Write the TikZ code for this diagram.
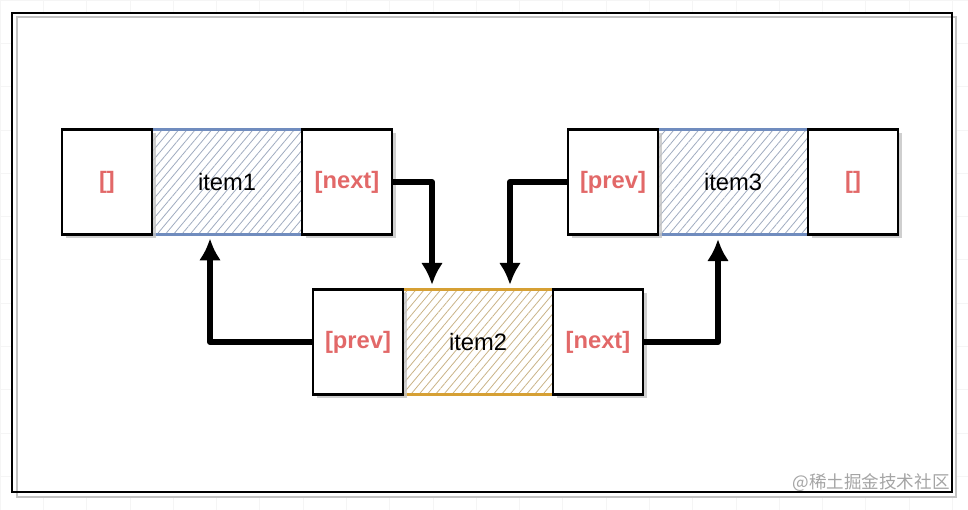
\documentclass[tikz,border=0pt]{standalone}
\usepackage{fontspec}
\setmainfont{Liberation Sans}
\newfontfamily\cjk{Noto Sans CJK SC}
\usetikzlibrary{arrows.meta,positioning,patterns.meta,shadows}
\definecolor{ptrred}{RGB}{226,104,104}
\definecolor{itemblue}{RGB}{112,140,190}
\definecolor{itemorange}{RGB}{214,160,52}
\definecolor{framegray}{RGB}{195,195,195}
\definecolor{markgray}{RGB}{165,165,165}

\tikzset{
  ptrbox/.style={draw=black, line width=1.5pt, fill=white, inner sep=0pt,
    minimum width=1.8cm, minimum height=2.1cm, text=ptrred,
    font=\bfseries\fontsize{13.5}{15}\selectfont,
    drop shadow={shadow xshift=2pt, shadow yshift=-2pt, fill=framegray, opacity=0.8}},
  itembox/.style={draw=#1, line width=1.2pt, inner sep=0pt,
    minimum width=3.0cm, minimum height=2.1cm,
    pattern={Lines[angle=50, distance=3.6pt, line width=0.45pt]}, pattern color=#1!60!gray!70,
    font=\fontsize{13.5}{15}\selectfont},
  link/.style={line width=3.4pt, line join=round,
    -{Latex[length=4.4mm, width=4.4mm]}, shorten >=2pt}
}

\begin{document}
\begin{tikzpicture}[x=0.02cm, y=-0.02cm]
\useasboundingbox (0,0) rectangle (968,510);
% paper
\fill[white] (0,0) rectangle (968,510);
\draw[gray!8, step=0.866cm] (0,0) grid (968,510);
% frame
\fill[white] (12,13) rectangle (956,497);
\draw[framegray, line width=1.2pt] (17,17) rectangle (956,497);
\draw[line width=1.3pt] (12,13) rectangle (952,492);

% item1
\node[itembox=itemblue] (item1) at (227,182) {item1};
\node[ptrbox] (nil1) at (107,182) {[]};
\node[ptrbox] (next1) at (347,182) {[next]};
% item3
\node[itembox=itemblue] (item3) at (733,182) {item3};
\node[ptrbox] (prev3) at (613,182) {[prev]};
\node[ptrbox] (nil3) at (853,182) {[]};
% item2
\node[itembox=itemorange] (item2) at (478,342) {item2};
\node[ptrbox] (prev2) at (358,342) {[prev]};
\node[ptrbox] (next2) at (598,342) {[next]};

% links
\draw[link] (next1.east) -| ([xshift=-0.92cm]item2.north);
\draw[link] (prev3.west) -| ([xshift=0.64cm]item2.north);
\draw[link] (prev2.west) -| ([xshift=-0.34cm]item1.south);
\draw[link] (next2.east) -| ([xshift=-0.3cm]item3.south);

% watermark
\node[anchor=east, text=markgray, font=\cjk\fontsize{10}{12}\selectfont, inner sep=0pt] (mark) at (950,483) {@稀土掘金技术社区};
\end{tikzpicture}
\end{document}
